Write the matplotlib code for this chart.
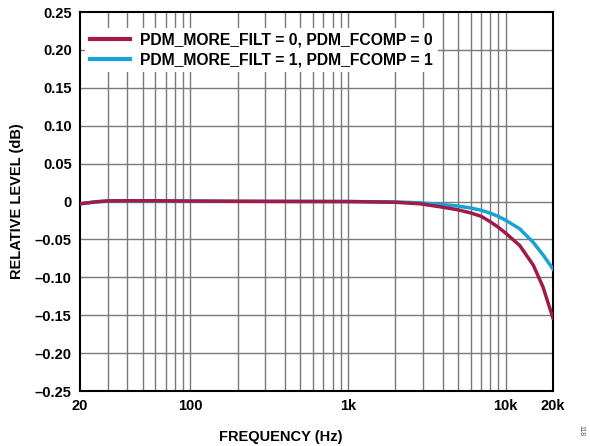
import matplotlib
matplotlib.use("Agg")
import matplotlib.pyplot as plt
from matplotlib.ticker import FixedLocator, NullFormatter, NullLocator

plt.rcParams['font.family'] = ['Liberation Sans', 'DejaVu Sans']
plt.rcParams['font.weight'] = 'bold'

# frequency response, PDM_MORE_FILT = 0 / PDM_FCOMP = 0
freq0 = [20, 25, 30, 40, 60, 100, 200, 500, 1000, 2000, 2870, 4000, 5000,
         6000, 7000, 8000, 9000, 10000, 12300, 15000, 17300, 20000]
level0 = [-0.003, -0.0005, 0.0008, 0.001, 0.001, 0.0006, 0.0003, 0.0001,
          0.0, -0.001, -0.003, -0.0075, -0.011, -0.015, -0.0195, -0.0267,
          -0.034, -0.0416, -0.058, -0.084, -0.113, -0.154]

# PDM_MORE_FILT = 1 / PDM_FCOMP = 1
freq1 = [20, 25, 30, 40, 60, 100, 200, 500, 1000, 2000, 2870, 4000, 5000,
         6000, 7000, 8000, 9000, 10000, 12300, 15000, 17300, 20000]
level1 = [-0.003, -0.0005, 0.0008, 0.001, 0.001, 0.0006, 0.0003, 0.0001,
          0.0, -0.0005, -0.0017, -0.004, -0.006, -0.0085, -0.0115, -0.0153,
          -0.0197, -0.0245, -0.036, -0.054, -0.0705, -0.089]

yticks = [0.25, 0.20, 0.15, 0.10, 0.05, 0, -0.05, -0.10, -0.15, -0.20, -0.25]
ylabels = ['0.25', '0.20', '0.15', '0.10', '0.05', '0', '\u20130.05',
           '\u20130.10', '\u20130.15', '\u20130.20', '\u20130.25']
xticks = [20, 100, 1000, 10000, 20000]
xlabels = ['20', '100', '1k', '10k', '20k']

red = '#A01A4A'
blue = '#19A2D6'

fig = plt.figure(figsize=(5.9, 4.46), dpi=100)
ax = fig.add_axes([0.1356, 0.1233, 0.8017, 0.8497])

ax.set_xscale('log')
ax.set_xlim(20, 20000)
ax.set_ylim(-0.25, 0.25)

# grid at every 1-2-3...9 step of each decade
grid_x = [m * 10 ** d for d in range(1, 5) for m in range(1, 10)]
grid_x = [g for g in grid_x if 20 < g < 20000]
for g in grid_x:
    ax.axvline(g, color='#7a7a7a', lw=1.0, zorder=1)
for y in yticks[1:-1]:
    ax.axhline(y, color='#7a7a7a', lw=1.0, zorder=1)

ax.plot(freq1, level1, color=blue, lw=2.5, zorder=3,
        label='PDM_MORE_FILT = 1, PDM_FCOMP = 1')
ax.plot(freq0, level0, color=red, lw=2.5, zorder=4,
        label='PDM_MORE_FILT = 0, PDM_FCOMP = 0')

ax.xaxis.set_major_locator(FixedLocator(xticks))
ax.xaxis.set_minor_locator(NullLocator())
ax.xaxis.set_minor_formatter(NullFormatter())
ax.set_xticks(xticks)
ax.set_xticklabels(xlabels)
ax.set_yticks(yticks)
ax.set_yticklabels(ylabels)
ax.tick_params(length=0, labelsize=10.5, pad=6)
for lbl in ax.get_xticklabels() + ax.get_yticklabels():
    lbl.set_fontweight('bold')

for s in ax.spines.values():
    s.set_linewidth(1.5)
    s.set_color('black')

ax.set_xlabel('FREQUENCY (Hz)', fontsize=10.5, fontweight='bold', labelpad=12)
ax.xaxis.label.set_x(0.425)
ax.set_ylabel('RELATIVE LEVEL (dB)', fontsize=10.5, fontweight='bold', labelpad=8)

handles, labels = ax.get_legend_handles_labels()
leg = ax.legend(handles[::-1], labels[::-1], loc='upper left',
                bbox_to_anchor=(0.011, 0.959), borderaxespad=0,
                frameon=True, fancybox=False,
                edgecolor='none', facecolor='white', framealpha=1,
                prop={'weight': 'bold', 'size': 11.3}, handlelength=2.55,
                handletextpad=0.64, labelspacing=0.33, borderpad=0.3)
for line in leg.get_lines():
    line.set_linewidth(3)

fig.text(0.985, 0.035, '118', fontsize=5, color='#555555', rotation=270,
         ha='center', va='center', fontweight='normal')

fig.savefig('out.png', dpi=100)
